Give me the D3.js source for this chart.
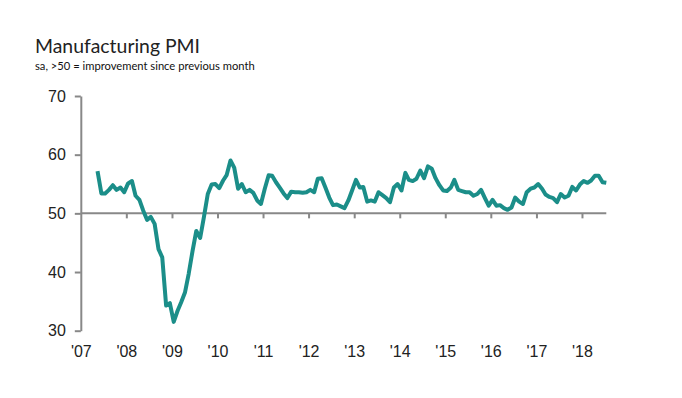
<!DOCTYPE html>
<html>
<head>
<meta charset="utf-8">
<script src="https://cdn.jsdelivr.net/npm/d3@7"></script>
<style>
    body { margin: 0; background: #fff; }
    .title { font-family: Lato, "Noto Sans", sans-serif; font-size: 19.4px; fill: #222; }
    .subtitle { font-family: Lato, "Noto Sans", sans-serif; font-size: 11.2px; fill: #111; }
    .tick text { font-family: "Liberation Sans", Arial, sans-serif; font-size: 16px; fill: #222; }
</style>
</head>
<body>
<div id="chart"></div>
<script>
// Monthly PMI readings, May 2007 - Jul 2018
const startYear = 2007;
const startMonth = 4; // May (0-based)

const pmi2007 = [57.2, 53.4, 53.4, 54.0, 54.8, 54.0, 54.4, 53.6];
const pmi2008 = [55.1, 55.5, 53.0, 52.3, 50.5, 48.9, 49.4, 48.2, 43.9, 42.5, 34.3, 34.7];
const pmi2009 = [31.5, 33.4, 34.8, 36.5, 39.7, 43.6, 47.0, 45.8, 49.5, 53.3, 54.9, 55.0];
const pmi2010 = [54.3, 55.6, 56.5, 59.0, 57.8, 54.2, 55.0, 53.6, 54.0, 53.5, 52.2, 51.6];
const pmi2011 = [54.2, 56.5, 56.4, 55.3, 54.4, 53.4, 52.6, 53.7, 53.6, 53.6, 53.5, 53.6];
const pmi2012 = [54.0, 53.6, 55.9, 56.0, 54.4, 52.7, 51.4, 51.5, 51.2, 50.9, 52.2, 53.9];
const pmi2013 = [55.7, 54.4, 54.5, 52.0, 52.2, 52.0, 53.6, 53.1, 52.6, 51.9, 54.4, 55.0];
const pmi2014 = [53.9, 56.9, 55.7, 55.5, 55.9, 57.3, 56.0, 58.0, 57.6, 56.0, 54.8, 53.9];
const pmi2015 = [53.8, 54.4, 55.7, 54.0, 53.8, 53.6, 53.6, 53.0, 53.3, 54.0, 52.6, 51.3];
const pmi2016 = [52.3, 51.3, 51.4, 50.9, 50.6, 51.0, 52.7, 52.0, 51.6, 53.6, 54.2, 54.4];
const pmi2017 = [55.0, 54.2, 53.2, 52.8, 52.6, 51.9, 53.3, 52.7, 53.0, 54.5, 53.9, 54.9];
const pmi2018 = [55.5, 55.2, 55.6, 56.4, 56.4, 55.3, 55.2];

const yearLabels = ["'07", "'08", "'09", "'10", "'11", "'12", "'13", "'14", "'15", "'16", "'17", "'18"];
const yTicks = [30, 40, 50, 60, 70];

const values = [].concat(pmi2007, pmi2008, pmi2009, pmi2010, pmi2011, pmi2012,
    pmi2013, pmi2014, pmi2015, pmi2016, pmi2017, pmi2018);
const data = values.map((v, i) => ({
    date: new Date(startYear, startMonth + i, 15),
    value: v
}));

const width = 682;
const height = 398;

const svg = d3.select("#chart").append("svg")
    .attr("width", width)
    .attr("height", height);

svg.append("text").attr("class", "title")
    .attr("x", 35).attr("y", 53)
    .text("Manufacturing PMI");

svg.append("text").attr("class", "subtitle")
    .attr("x", 35).attr("y", 70)
    .text("sa, >50 = improvement since previous month");

const x = d3.scaleTime()
    .domain([new Date(2007, 0, 1), new Date(2019, 0, 1)])
    .range([80.8, 627.5]);

const y = d3.scaleLinear()
    .domain([30, 70])
    .range([330.7, 96]);

const axisColor = "#888";

// Y axis
const yAxis = svg.append("g")
    .attr("transform", `translate(${x(new Date(2007, 0, 1))},0)`)
    .call(d3.axisLeft(y).tickValues(yTicks).tickSize(6).tickSizeOuter(0).tickPadding(9));
yAxis.select(".domain").attr("stroke", axisColor).attr("stroke-width", 2);
yAxis.selectAll(".tick line").attr("stroke", axisColor).attr("stroke-width", 2);

// X axis along the 50 line
const yearDates = yearLabels.map((d, i) => new Date(startYear + i, 0, 1));
const lastDate = data[data.length - 1].date;

svg.append("line")
    .attr("x1", x(new Date(2007, 0, 1)))
    .attr("x2", x(lastDate))
    .attr("y1", y(50))
    .attr("y2", y(50))
    .attr("stroke", axisColor)
    .attr("stroke-width", 2);

const xAxis = svg.append("g")
    .attr("transform", `translate(0,${y(50)})`)
    .call(d3.axisBottom(x).tickValues(yearDates.slice(1)).tickSize(5).tickFormat(""));
xAxis.select(".domain").remove();
xAxis.selectAll(".tick line").attr("stroke", axisColor).attr("stroke-width", 2);

// Year labels at bottom
const xLabels = svg.append("g")
    .attr("transform", "translate(0,342)")
    .call(d3.axisBottom(x).tickValues(yearDates).tickSize(0).tickPadding(4)
        .tickFormat((d, i) => yearLabels[i]));
xLabels.select(".domain").remove();

// PMI line
const line = d3.line()
    .x(d => x(d.date))
    .y(d => y(d.value));

svg.append("path")
    .datum(data)
    .attr("fill", "none")
    .attr("stroke", "#1b8e89")
    .attr("stroke-width", 4)
    .attr("stroke-linejoin", "round")
    .attr("d", line);
</script>
</body>
</html>
